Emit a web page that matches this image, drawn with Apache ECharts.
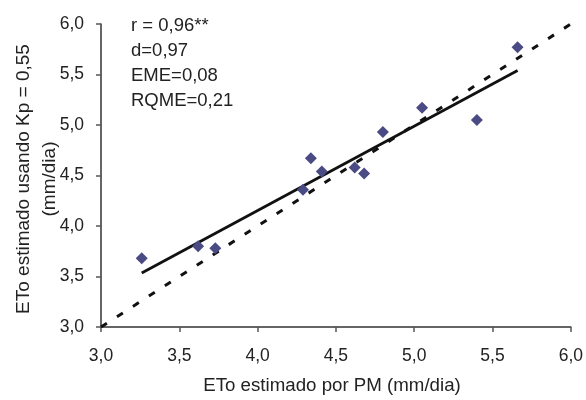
<!DOCTYPE html>
<html>
<head>
<meta charset="utf-8">
<script src="https://cdn.jsdelivr.net/npm/echarts@6/dist/echarts.min.js"></script>
<style>html,body{margin:0;padding:0;background:#fff;}#c{width:586px;height:400px;}</style>
</head>
<body>
<div id="c"></div>
<script>
// ETo estimated by PM (x) vs ETo estimated with Kp = 0,55 (y)
const pmValues = [3.26, 3.62, 3.73, 4.29, 4.34, 4.41, 4.62, 4.68, 4.80, 5.05, 5.40, 5.66];
const kpValues = [3.68, 3.80, 3.78, 4.36, 4.67, 4.54, 4.58, 4.52, 4.93, 5.17, 5.05, 5.77];
// regression line end points
const trendX = [3.26, 5.66];
const trendY = [3.535, 5.54];
// 1:1 line
const oneToOneX = [3.0, 6.0];
const oneToOneY = [3.0, 6.0];
const statsLines = ['r = 0,96**', 'd=0,97', 'EME=0,08', 'RQME=0,21'];
const xTitle = 'ETo estimado por PM (mm/dia)';
const yTitle = 'ETo estimado usando Kp = 0,55\n(mm/dia)';
const axisMin = 3.0, axisMax = 6.0, axisStep = 0.5;

const fmt = v => v.toFixed(1).replace('.', ',');
const FONT = 'Liberation Sans, Arial, sans-serif';

const chart = echarts.init(document.getElementById('c'), null, {renderer: 'canvas'});
const axisCommon = {
  type: 'value', min: axisMin, max: axisMax, interval: axisStep,
  splitLine: {show: false},
  axisLine: {show: true, onZero: false, lineStyle: {color: '#333', width: 1.5}},
  axisTick: {show: true, inside: false, length: 5, lineStyle: {color: '#555', width: 1.5}},
  axisLabel: {formatter: fmt, color: '#222', fontSize: 17.5, fontFamily: FONT}
};
chart.setOption({
  animation: false,
  backgroundColor: '#fff',
  grid: {left: 101, right: 12, top: 24, bottom: 73, containLabel: false},
  xAxis: Object.assign({}, axisCommon, {axisLabel: Object.assign({}, axisCommon.axisLabel, {margin: 20})}),
  yAxis: Object.assign({}, axisCommon, {axisLabel: Object.assign({}, axisCommon.axisLabel, {margin: 17})}),
  graphic: [
    ...statsLines.map((t, i) => ({
      type: 'text', left: 131, top: 16 + i * 25.3, z: 10,
      style: {text: t, fontSize: 18.5, fontFamily: FONT, fill: '#222'}
    })),
    {type: 'text', x: 332, y: 386, z: 10,
     style: {text: xTitle, fontSize: 18.7, fontFamily: FONT, fill: '#222', align: 'center', verticalAlign: 'middle'}},
    {type: 'text', x: 37, y: 179, rotation: Math.PI / 2, z: 10,
     style: {text: yTitle, fontSize: 19, lineHeight: 26, fontFamily: FONT, fill: '#222', align: 'center', verticalAlign: 'middle'}}
  ],
  series: [
    {
      type: 'line', data: oneToOneX.map((x, i) => [x, oneToOneY[i]]),
      showSymbol: false, symbol: 'none', z: 1,
      lineStyle: {color: '#111', width: 3, type: [7, 12], cap: 'butt'}
    },
    {
      type: 'line', data: trendX.map((x, i) => [x, trendY[i]]),
      showSymbol: false, symbol: 'none', z: 2,
      lineStyle: {color: '#111', width: 2.8, type: 'solid'}
    },
    {
      type: 'scatter', data: pmValues.map((x, i) => [x, kpValues[i]]),
      symbol: 'diamond', symbolSize: 12, z: 3,
      itemStyle: {color: '#4a4a84', opacity: 1}
    }
  ]
});
</script>
</body>
</html>
